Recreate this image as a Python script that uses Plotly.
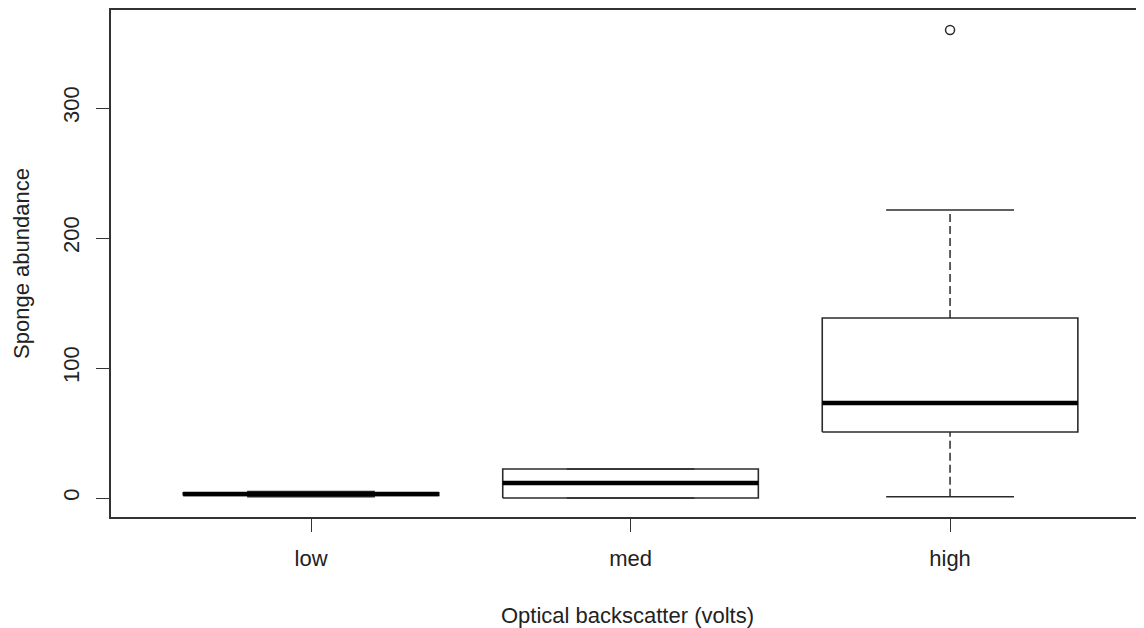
import plotly.graph_objects as go

categories = ["low", "med", "high"]
positions = [1, 2, 3]
lower_whisker = [1, 0, 1]
q1 = [2, 0, 50.8]
median = [3, 11.5, 73]
q3 = [4, 22.3, 138.5]
upper_whisker = [5, 22.3, 221.5]
outlier_x = [3]
outlier_y = [360]

BOX_HALF = 0.4
CAP_HALF = 0.2
LINE = "#2b2b2b"

box_x, box_y = [], []
med_x, med_y = [], []
wh_x, wh_y = [], []
cap_x, cap_y = [], []
for p, lo, a, m, b, hi in zip(positions, lower_whisker, q1, median, q3, upper_whisker):
    box_x += [p - BOX_HALF, p + BOX_HALF, p + BOX_HALF, p - BOX_HALF, p - BOX_HALF, None]
    box_y += [a, a, b, b, a, None]
    med_x += [p - BOX_HALF, p + BOX_HALF, None]
    med_y += [m, m, None]
    wh_x += [p, p, None, p, p, None]
    wh_y += [lo, a, None, b, hi, None]
    cap_x += [p - CAP_HALF, p + CAP_HALF, None, p - CAP_HALF, p + CAP_HALF, None]
    cap_y += [lo, lo, None, hi, hi, None]

fig = go.Figure()
fig.add_trace(go.Scatter(x=wh_x, y=wh_y, mode="lines",
                         line=dict(color=LINE, width=1.5, dash="8px,4px"), hoverinfo="skip"))
fig.add_trace(go.Scatter(x=cap_x, y=cap_y, mode="lines",
                         line=dict(color=LINE, width=1.5), hoverinfo="skip"))
fig.add_trace(go.Scatter(x=box_x, y=box_y, mode="lines",
                         line=dict(color=LINE, width=1.6), hoverinfo="skip"))
fig.add_trace(go.Scatter(x=med_x, y=med_y, mode="lines",
                         line=dict(color="#000000", width=4.5), hoverinfo="skip"))
fig.add_trace(go.Scatter(x=outlier_x, y=outlier_y, mode="markers",
                         marker=dict(symbol="circle-open", size=9, color=LINE,
                                     line=dict(width=1.5, color=LINE)), hoverinfo="skip"))

font = dict(family="Liberation Sans, Arial, sans-serif", size=22, color="#222222")
fig.update_layout(
    width=1136, height=620,
    margin=dict(l=103, r=0, t=2, b=111),
    paper_bgcolor="white", plot_bgcolor="white",
    showlegend=False, font=font,
    xaxis=dict(range=[0.374, 3.607], tickvals=positions, ticktext=categories,
               showgrid=False, zeroline=False, showline=True, mirror=True,
               linecolor="#333333", linewidth=1.5,
               ticks="outside", ticklen=13, tickwidth=1.2, tickcolor="#333333",
               ticklabelstandoff=8,
               title=dict(text="Optical backscatter (volts)", standoff=37, font=font)),
    yaxis=dict(range=[-14.6, 375.4], tickvals=[0, 100, 200, 300],
               showgrid=False, zeroline=False, showline=True, mirror=False,
               linecolor="#333333", linewidth=1.5,
               ticks="outside", ticklen=13, tickwidth=1.2, tickcolor="#333333",
               tickangle=-90, ticklabelstandoff=8,
               title=dict(text="Sponge abundance", standoff=24, font=font)),
)

fig.write_html("out.html")
